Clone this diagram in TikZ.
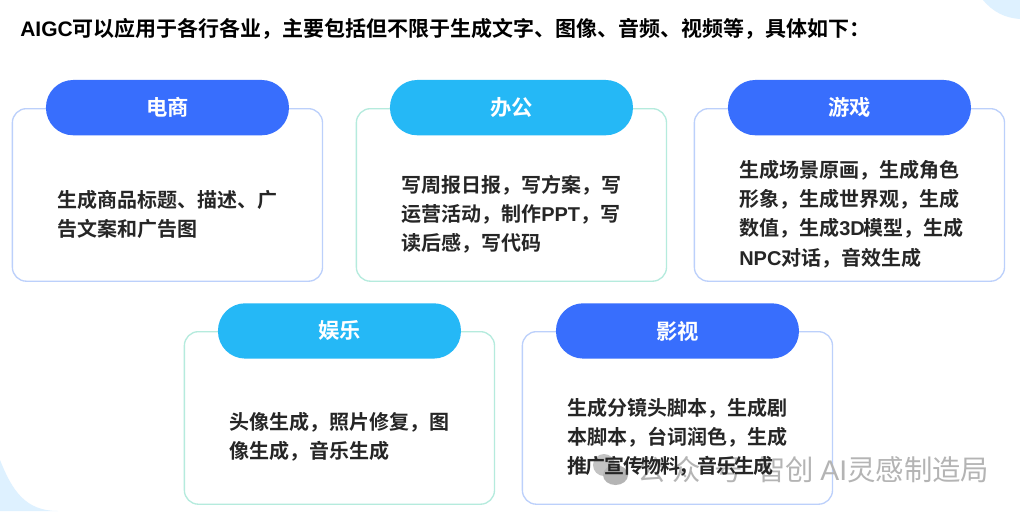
\documentclass[tikz,border=0pt]{standalone}
\usepackage{fontspec}
\setmainfont{Noto Sans CJK SC}[BoldFont={Noto Sans CJK SC Bold}]
\newfontfamily\lat{Liberation Sans}
\definecolor{cblue}{HTML}{386EFD}
\definecolor{csky}{HTML}{25B8F6}
\definecolor{lineblue}{HTML}{BCD0FB}
\definecolor{linegreen}{HTML}{B5EBDD}
\definecolor{ink}{HTML}{262626}
\definecolor{blob}{HTML}{DEF1FF}
\definecolor{wm}{HTML}{B4B4B4}
\tikzset{
  card/.style={draw=#1,line width=1pt,fill=white,rounded corners=10.5pt,minimum width=232.6pt,minimum height=129.4pt,inner sep=0pt,anchor=north west},
  pill/.style={fill=#1,rounded corners=20.5pt,minimum width=182.25pt,minimum height=41.5pt,inner sep=0pt,text=white,font=\fontsize{16}{20}\selectfont\bfseries,anchor=north west},
  body/.style={anchor=west,align=left,inner sep=0pt,text=ink,font=\fontsize{15}{21.9}\selectfont\bfseries},
  wmtext/.style={anchor=west,inner sep=0pt,text=wm,font=\fontsize{21.3}{26}\selectfont}
}
\begin{document}
\begin{tikzpicture}[x=.75pt,y=-.75pt]
\useasboundingbox (0,0) rectangle (1020,511);
\fill[white] (0,0) rectangle (1020,511);
\fill[blob] (0,460) .. controls (12,490) and (25,511) .. (58,511) -- (0,511) -- cycle;
\fill[blob] (983,0) .. controls (993,12) and (1005,18) .. (1020,19) -- (1020,0) -- cycle;
\node[anchor=west,inner sep=0pt,text=black,font=\fontsize{15.75}{20}\selectfont\bfseries] (title) at (20,28.5) {{\lat\bfseries AIGC}可以应用于各行各业，主要包括但不限于生成文字、图像、音频、视频等，具体如下：};
\node[card=lineblue] (c1) at (11.7,108) {};
\node[card=linegreen] (c2) at (355.7,108) {};
\node[card=lineblue] (c3) at (693.7,108) {};
\node[card=linegreen] (c4) at (183.7,331) {};
\node[card=lineblue] (c5) at (521.7,331) {};
\node[pill=cblue] (p1) at (45.7,79.7) {电商};
\node[pill=csky] (p2) at (389.7,79.7) {办公};
\node[pill=cblue] (p3) at (727.7,79.7) {游戏};
\node[pill=csky] (p4) at (217.7,303) {娱乐};
\node[pill=cblue] (p5) at (555.7,303) {影视};
\fill[wm,opacity=.8] (604,465) ellipse (11 and 11);
\fill[wm] (615.5,475) ellipse (12.5 and 10);
\node[wmtext] (w1) at (637,470) {公\hspace{5pt}众\hspace{10pt}号};
\node[wmtext] (w2) at (757,470) {智创 {\lat AI}灵感制造局};
\node[body] (b1) at (57,214.5) {生成商品标题、描述、广\\告文案和广告图};
\node[body] (b2) at (401,214) {写周报日报，写方案，写\\运营活动，制作{\lat\bfseries PPT}，写\\读后感，写代码};
\node[body] (b3) at (739,214) {生成场景原画，生成角色\\形象，生成世界观，生成\\数值，生成{\lat\bfseries 3D}\hspace{-1pt}模型，生成\\{\lat\bfseries NPC}对话，音效生成};
\node[body] (b4) at (229,437) {头像生成，照片修复，图\\像生成，音乐生成};
\node[body] (b5) at (567,437) {生成分镜头脚本，生成剧\\本脚本，台词润色，生成\\{\addfontfeature{LetterSpace=-7}推广宣传物料，音乐生成}};
\end{tikzpicture}
\end{document}
